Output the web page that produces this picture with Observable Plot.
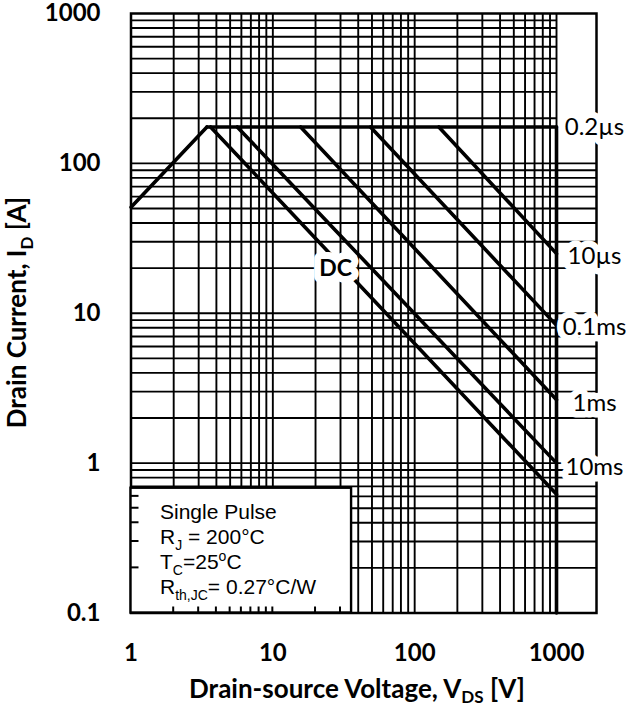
<!DOCTYPE html>
<html>
<head>
<meta charset="utf-8">
<script src="https://cdn.jsdelivr.net/npm/d3@7"></script>
<script src="https://cdn.jsdelivr.net/npm/@observablehq/plot@0.6"></script>
<style>
  html, body { margin: 0; padding: 0; background: #fff; }
  #chart svg { display: block; }
</style>
</head>
<body>
<div id="chart"></div>
<script>
// ---- tick labels ----
const xTicks = [1, 10, 100, 1000];
const yTicks = [0.1, 1, 10, 100, 1000];

// ---- grid values ----
const gridX = [2,3,4,5,6,7,8,9,10,20,30,40,50,60,70,80,90,100,200,300,400,500,600,700,800,900,1000];
const gridYTop = [200,300,400,500,600,700,800,900];
const gridYRest = [0.2,0.3,0.4,0.5,0.6,0.7,0.8,0.9,1,2,3,4,5,6,7,8,9,10,20,30,40,50,60,70,80,90,100];

// ---- safe operating area boundaries ----
const rdsOnV = [1, 3.43];
const rdsOnI = [51, 175];
const plateauV = [3.43, 1000];
const plateauI = [175, 175];
const limitV = [1000, 1000];
const limitI = [175, 0.1];

const pulseNames = ["10µs", "0.1ms", "1ms", "10ms", "DC"];
const pulseStartV = [148, 48.8, 15.7, 5.61, 3.64];
const pulseStartI = [175, 175, 175, 175, 175];
const pulseEndV = [1000, 1000, 1000, 1000, 1000];
const pulseEndI = [25, 8.3, 2.65, 1.0, 0.62];

// ---- curve labels ----
const curveLabels = ["0.2µs", "10µs", "0.1ms", "1ms", "10ms"];
const curveLabelI = [175, 24, 8, 2.5, 0.94];
const dcLabel = "DC";
const dcLabelV = 27.7;
const dcLabelI = 20;

// ---- conditions box ----
const boxV = [1, 35.9];
const boxI = [0.1, 0.68];

// build line table
const rows = [];
rdsOnV.forEach((v, k) => rows.push({v, i: rdsOnI[k], seg: "rds"}));
plateauV.forEach((v, k) => rows.push({v, i: plateauI[k], seg: "0.2µs"}));
limitV.forEach((v, k) => rows.push({v, i: limitI[k], seg: "limit"}));
pulseNames.forEach((name, k) => {
  rows.push({v: pulseStartV[k], i: pulseStartI[k], seg: name});
  rows.push({v: pulseEndV[k], i: pulseEndI[k], seg: name});
});

const xMax = 1914;
const xMin = 1;
const gridStroke = "#000";
const stubX = gridX.filter(d => d < boxV[1]);
const stubY = gridYRest.filter(d => d < boxI[1]);
const FONT = "Lato, 'Open Sans', sans-serif";

const plot = Plot.plot({
  width: 626,
  height: 710,
  marginLeft: 130.5,
  marginRight: 30,
  marginTop: 13,
  marginBottom: 97.5,
  x: {type: "log", domain: [xMin, xMax]},
  y: {type: "log", domain: [0.1, 1000]},
  style: {fontFamily: FONT, background: "#fff", color: "#000"},
  marks: [
    Plot.ruleX(gridX, {stroke: gridStroke, strokeWidth: 1.9}),
    Plot.ruleY(gridYTop, {x1: xMin, x2: 1000, stroke: gridStroke, strokeWidth: 1.9}),
    Plot.ruleY(gridYRest, {x1: xMin, x2: xMax, stroke: gridStroke, strokeWidth: 1.9}),
    Plot.frame({stroke: "#000", strokeWidth: 2.5}),
    Plot.line(rows, {x: "v", y: "i", z: "seg", stroke: "#000", strokeWidth: 3.6, strokeLinejoin: "round"}),
    Plot.rect([0], {x1: boxV[0], x2: boxV[1], y1: boxI[0], y2: boxI[1], fill: "#fff", stroke: "#000", strokeWidth: 2.4}),
    Plot.axisY(yTicks, {anchor: "left", tickSize: 0, tickPadding: 30.5, fontSize: 24, fontWeight: "bold", tickFormat: d => String(d), label: null}),
    Plot.axisX(xTicks, {anchor: "bottom", tickSize: 0, tickPadding: 31, fontSize: 24, fontWeight: "bold", tickFormat: d => String(d), label: null}),
    Plot.text(curveLabels, {
      x: () => xMax, y: (d, k) => curveLabelI[k], text: d => d, dx: -2,
      textAnchor: "middle", fontSize: 24, fill: "#000",
      stroke: "#fff", strokeWidth: 13
    }),
    Plot.text([dcLabel], {
      x: () => dcLabelV, y: () => dcLabelI, text: d => d,
      textAnchor: "middle", fontSize: 23, fontWeight: "bold", fill: "#000",
      stroke: "#fff", strokeWidth: 14
    })
  ]
});

document.getElementById("chart").append(plot);

const sx = plot.scale("x"), sy = plot.scale("y");
const svg = d3.select(plot);

// inner tick stubs along the frame inside the conditions box
const stubs = svg.append("g").attr("stroke", "#000").attr("stroke-width", 2);
const left = sx.apply(xMin), bottom = sy.apply(0.1);
stubY.forEach(v => {
  const y = sy.apply(v);
  stubs.append("line").attr("x1", left).attr("x2", left + 8).attr("y1", y).attr("y2", y);
});
stubX.forEach(v => {
  const x = sx.apply(v);
  stubs.append("line").attr("x1", x).attr("x2", x).attr("y1", bottom).attr("y2", bottom - 6);
});

function richText(parent, parts, fontSize, subSize, subShift) {
  let shift = 0;
  parts.forEach(([str, kind]) => {
    const t = parent.append("tspan").text(str);
    let target = 0;
    if (kind === "sub") { target = fontSize * subShift; t.attr("font-size", subSize); }
    else if (kind === "sup") { target = -fontSize * 0.38; t.attr("font-size", subSize); }
    const dy = target - shift;
    if (dy !== 0) t.attr("dy", dy);
    shift = target;
  });
}

// axis titles
const xTitle = svg.append("text")
  .attr("x", 357).attr("y", 698)
  .attr("text-anchor", "middle")
  .attr("font-family", FONT)
  .attr("font-weight", "bold").attr("font-size", 26).attr("fill", "#000");
richText(xTitle, [["Drain-source Voltage, V", null], ["DS", "sub"], [" [V]", null]], 26, 17, 0.2);

const yTitle = svg.append("text")
  .attr("transform", "translate(26,312.5) rotate(-90)")
  .attr("text-anchor", "middle")
  .attr("font-family", FONT)
  .attr("font-weight", "bold").attr("font-size", 26).attr("fill", "#000");
richText(yTitle, [["Drain Current, I", null], ["D", "sub"], [" [A]", null]], 26, 17, 0.28);

// conditions box text
const boxLeft = sx.apply(boxV[0]);
const boxTop = sy.apply(boxI[1]);
const legendLines = [
  [["Single Pulse", null]],
  [["R", null], ["J", "sub"], [" = 200°C", null]],
  [["T", null], ["C", "sub"], ["=25", null], ["o", "sup"], ["C", null]],
  [["R", null], ["th,JC", "sub"], ["= 0.27°C/W", null]]
];
legendLines.forEach((parts, k) => {
  const t = svg.append("text")
    .attr("x", boxLeft + 29.5)
    .attr("y", boxTop + 31 + k * 25)
    .attr("text-anchor", "start")
    .attr("font-family", "'Liberation Sans', Arial, sans-serif")
    .attr("font-size", 21).attr("fill", "#000");
  richText(t, parts, 21, 14, 0.28);
});
</script>
</body>
</html>
